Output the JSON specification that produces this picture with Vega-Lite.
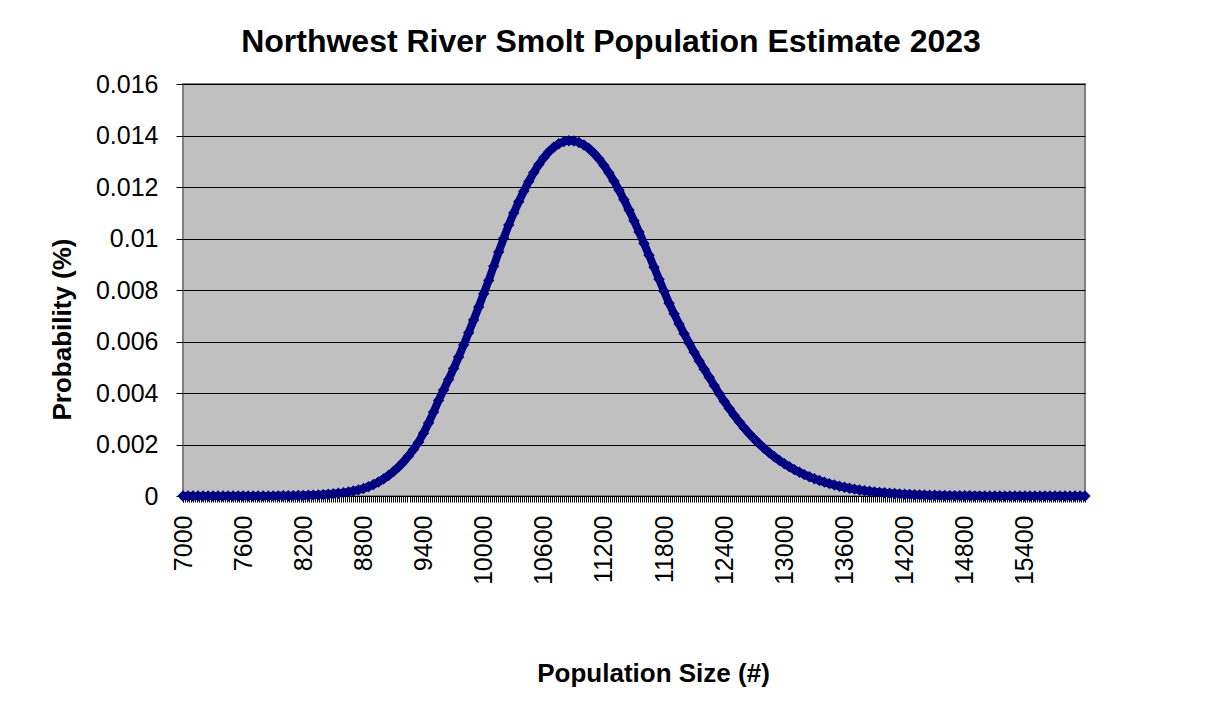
{
  "$schema": "https://vega.github.io/schema/vega-lite/v6.json",
  "width": 902,
  "height": 412,
  "autosize": {"type": "none"},
  "padding": {"left": 183, "top": 84, "right": 130, "bottom": 226},
  "background": "white",
  "title": {
    "text": "Northwest River Smolt Population Estimate 2023",
    "font": "Liberation Sans",
    "fontSize": 32,
    "fontWeight": "bold",
    "color": "black",
    "anchor": "middle",
    "dx": -23,
    "offset": 13
  },
  "config": {
    "view": {"fill": "#C0C0C0", "stroke": "#808080", "strokeWidth": 2},
    "axis": {"labelFont": "Liberation Sans", "titleFont": "Liberation Sans", "labelColor": "black", "titleColor": "black", "tickColor": "black", "domainColor": "black"}
  },
  "data": {
    "values": [
      {"x": 7000, "p": 0.00000001}, {"x": 7050, "p": 0.00000002}, {"x": 7100, "p": 0.00000003}, {"x": 7150, "p": 0.00000004},
      {"x": 7200, "p": 0.00000006}, {"x": 7250, "p": 0.00000009}, {"x": 7300, "p": 0.00000012}, {"x": 7350, "p": 0.00000017},
      {"x": 7400, "p": 0.00000024}, {"x": 7450, "p": 0.00000033}, {"x": 7500, "p": 0.00000046}, {"x": 7550, "p": 0.00000063},
      {"x": 7600, "p": 0.00000084}, {"x": 7650, "p": 0.0000011}, {"x": 7700, "p": 0.0000015}, {"x": 7750, "p": 0.0000020},
      {"x": 7800, "p": 0.0000027}, {"x": 7850, "p": 0.0000035}, {"x": 7900, "p": 0.0000046}, {"x": 7950, "p": 0.0000061},
      {"x": 8000, "p": 0.0000079}, {"x": 8050, "p": 0.0000102}, {"x": 8100, "p": 0.0000131}, {"x": 8150, "p": 0.0000169},
      {"x": 8200, "p": 0.0000216}, {"x": 8250, "p": 0.0000275}, {"x": 8300, "p": 0.0000348}, {"x": 8350, "p": 0.0000438},
      {"x": 8400, "p": 0.0000550}, {"x": 8450, "p": 0.0000687}, {"x": 8500, "p": 0.0000854}, {"x": 8550, "p": 0.000106},
      {"x": 8600, "p": 0.000130}, {"x": 8650, "p": 0.000160}, {"x": 8700, "p": 0.000195}, {"x": 8750, "p": 0.000237},
      {"x": 8800, "p": 0.000290}, {"x": 8850, "p": 0.000360}, {"x": 8900, "p": 0.000444}, {"x": 8950, "p": 0.000543},
      {"x": 9000, "p": 0.000659}, {"x": 9050, "p": 0.000794}, {"x": 9100, "p": 0.000950}, {"x": 9150, "p": 0.001128},
      {"x": 9200, "p": 0.001330}, {"x": 9250, "p": 0.001557}, {"x": 9300, "p": 0.001810}, {"x": 9350, "p": 0.002091},
      {"x": 9400, "p": 0.002441}, {"x": 9450, "p": 0.002834}, {"x": 9500, "p": 0.003258}, {"x": 9550, "p": 0.003712},
      {"x": 9600, "p": 0.004116}, {"x": 9650, "p": 0.004522}, {"x": 9700, "p": 0.004950}, {"x": 9750, "p": 0.005396},
      {"x": 9800, "p": 0.005862}, {"x": 9850, "p": 0.006342}, {"x": 9900, "p": 0.006837}, {"x": 9950, "p": 0.007342},
      {"x": 10000, "p": 0.007854}, {"x": 10050, "p": 0.008370}, {"x": 10100, "p": 0.008924}, {"x": 10150, "p": 0.009477},
      {"x": 10200, "p": 0.010013}, {"x": 10250, "p": 0.010527}, {"x": 10300, "p": 0.010991}, {"x": 10350, "p": 0.011426},
      {"x": 10400, "p": 0.011835}, {"x": 10450, "p": 0.012215}, {"x": 10500, "p": 0.012561}, {"x": 10550, "p": 0.012870},
      {"x": 10600, "p": 0.013139}, {"x": 10650, "p": 0.013365}, {"x": 10700, "p": 0.013546}, {"x": 10750, "p": 0.013679},
      {"x": 10800, "p": 0.013764}, {"x": 10850, "p": 0.013799}, {"x": 10900, "p": 0.013786}, {"x": 10950, "p": 0.013730},
      {"x": 11000, "p": 0.013632}, {"x": 11050, "p": 0.013493}, {"x": 11100, "p": 0.013313}, {"x": 11150, "p": 0.013094},
      {"x": 11200, "p": 0.012839}, {"x": 11250, "p": 0.012550}, {"x": 11300, "p": 0.012229}, {"x": 11350, "p": 0.011879},
      {"x": 11400, "p": 0.011503}, {"x": 11450, "p": 0.011105}, {"x": 11500, "p": 0.010687}, {"x": 11550, "p": 0.010253},
      {"x": 11600, "p": 0.009805}, {"x": 11650, "p": 0.009348}, {"x": 11700, "p": 0.008884}, {"x": 11750, "p": 0.008417},
      {"x": 11800, "p": 0.007950}, {"x": 11850, "p": 0.007485}, {"x": 11900, "p": 0.007073}, {"x": 11950, "p": 0.006683},
      {"x": 12000, "p": 0.006304}, {"x": 12050, "p": 0.005939}, {"x": 12100, "p": 0.005586}, {"x": 12150, "p": 0.005247},
      {"x": 12200, "p": 0.004923}, {"x": 12250, "p": 0.004613}, {"x": 12300, "p": 0.004290}, {"x": 12350, "p": 0.003976},
      {"x": 12400, "p": 0.003678}, {"x": 12450, "p": 0.003396}, {"x": 12500, "p": 0.003130}, {"x": 12550, "p": 0.002879},
      {"x": 12600, "p": 0.002643}, {"x": 12650, "p": 0.002422}, {"x": 12700, "p": 0.002216}, {"x": 12750, "p": 0.002023},
      {"x": 12800, "p": 0.001845}, {"x": 12850, "p": 0.001679}, {"x": 12900, "p": 0.001525}, {"x": 12950, "p": 0.001384},
      {"x": 13000, "p": 0.001253}, {"x": 13050, "p": 0.001133}, {"x": 13100, "p": 0.001023}, {"x": 13150, "p": 0.000923},
      {"x": 13200, "p": 0.000830}, {"x": 13250, "p": 0.000746}, {"x": 13300, "p": 0.000670}, {"x": 13350, "p": 0.000600},
      {"x": 13400, "p": 0.000537}, {"x": 13450, "p": 0.000480}, {"x": 13500, "p": 0.000428}, {"x": 13550, "p": 0.000381},
      {"x": 13600, "p": 0.000338}, {"x": 13650, "p": 0.000300}, {"x": 13700, "p": 0.000266}, {"x": 13750, "p": 0.000235},
      {"x": 13800, "p": 0.000207}, {"x": 13850, "p": 0.000183}, {"x": 13900, "p": 0.000161}, {"x": 13950, "p": 0.000142},
      {"x": 14000, "p": 0.000124}, {"x": 14050, "p": 0.000109}, {"x": 14100, "p": 0.0000956}, {"x": 14150, "p": 0.0000838},
      {"x": 14200, "p": 0.0000719}, {"x": 14250, "p": 0.0000614}, {"x": 14300, "p": 0.0000522}, {"x": 14350, "p": 0.0000443},
      {"x": 14400, "p": 0.0000376}, {"x": 14450, "p": 0.0000318}, {"x": 14500, "p": 0.0000268}, {"x": 14550, "p": 0.0000225},
      {"x": 14600, "p": 0.0000189}, {"x": 14650, "p": 0.0000159}, {"x": 14700, "p": 0.0000132}, {"x": 14750, "p": 0.0000110},
      {"x": 14800, "p": 0.0000092}, {"x": 14850, "p": 0.0000076}, {"x": 14900, "p": 0.0000063}, {"x": 14950, "p": 0.0000052},
      {"x": 15000, "p": 0.0000043}, {"x": 15050, "p": 0.0000035}, {"x": 15100, "p": 0.0000029}, {"x": 15150, "p": 0.0000024},
      {"x": 15200, "p": 0.0000019}, {"x": 15250, "p": 0.0000016}, {"x": 15300, "p": 0.0000013}, {"x": 15350, "p": 0.0000010},
      {"x": 15400, "p": 0.0000008}, {"x": 15450, "p": 0.0000007}, {"x": 15500, "p": 0.0000005}, {"x": 15550, "p": 0.0000004},
      {"x": 15600, "p": 0.0000003}, {"x": 15650, "p": 0.0000003}, {"x": 15700, "p": 0.0000002}, {"x": 15750, "p": 0.0000002},
      {"x": 15800, "p": 0.0000001}, {"x": 15850, "p": 0.0000001}, {"x": 15900, "p": 0.0000001}, {"x": 15950, "p": 0.0000001},
      {"x": 16000, "p": 0.00000005}
    ]
  },
  "layer": [
    {
      "mark": {"type": "line", "color": "#000080", "strokeWidth": 8},
      "encoding": {
        "x": {
          "field": "x", "type": "quantitative",
          "scale": {"domain": [7000, 16000], "nice": false, "zero": false},
          "axis": {"orient": "bottom", "tickCount": 450, "labels": false, "grid": false, "domain": true, "ticks": true, "tickSize": 6, "tickWidth": 1, "title": null}
        },
        "y": {
          "field": "p", "type": "quantitative",
          "scale": {"domain": [0, 0.016], "nice": false},
          "axis": {
            "values": [0, 0.002, 0.004, 0.006, 0.008, 0.01, 0.012, 0.014, 0.016],
            "format": "~g",
            "grid": true, "gridColor": "black", "gridWidth": 1, "gridOpacity": 1,
            "domain": false, "ticks": true, "tickSize": 7, "tickWidth": 1,
            "labelFontSize": 25, "labelPadding": 18,
            "title": "Probability (%)", "titleFontSize": 26, "titleFontWeight": "bold",
            "titleAngle": -90, "titleX": -113, "titleY": 245, "titleAlign": "center", "titleBaseline": "alphabetic"
          }
        }
      }
    },
    {
      "mark": {"type": "point", "shape": "diamond", "filled": true, "color": "#000080", "size": 130, "opacity": 1},
      "encoding": {
        "x": {
          "field": "x", "type": "quantitative",
          "scale": {"domain": [7000, 16000], "nice": false, "zero": false},
          "axis": {
            "orient": "bottom",
            "values": [7000, 7600, 8200, 8800, 9400, 10000, 10600, 11200, 11800, 12400, 13000, 13600, 14200, 14800, 15400],
            "format": "d", "grid": false, "domain": false, "ticks": true, "tickSize": 6, "tickWidth": 1,
            "labelAngle": -90, "labelAlign": "right", "labelBaseline": "middle", "labelFontSize": 25, "labelPadding": 13,
            "labelOverlap": false, "labelFlush": false,
            "title": "Population Size (#)", "titleFontSize": 26, "titleFontWeight": "bold",
            "titleX": 470, "titleY": 185, "titleAlign": "center", "titleBaseline": "alphabetic"
          }
        },
        "y": {"field": "p", "type": "quantitative"}
      }
    }
  ],
  "resolve": {"axis": {"x": "independent"}}
}
